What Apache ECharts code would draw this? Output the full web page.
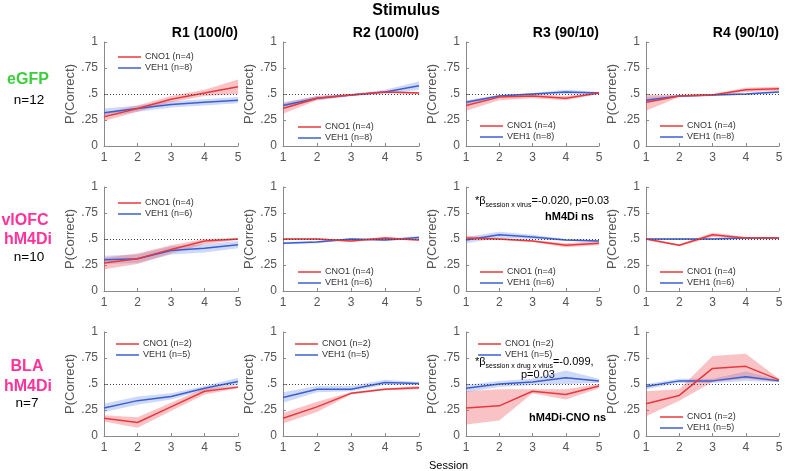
<!DOCTYPE html>
<html>
<head>
<meta charset="utf-8">
<script src="https://cdn.jsdelivr.net/npm/echarts@6/dist/echarts.min.js"></script>
<style>html,body{margin:0;padding:0;background:#fff;}#c{width:790px;height:471px;}</style>
</head>
<body>
<div id="c"></div>
<script>
// ---------- DATA ----------
const sessions = ['1', '2', '3', '4', '5'];
const yTickValues = [0, 0.25, 0.5, 0.75, 1];
const yTickLabels = ['0', '.25', '.5', '.75', '1'];
const stimuli = ['R1 (100/0)', 'R2 (100/0)', 'R3 (90/10)', 'R4 (90/10)'];
const cnoNames = ['CNO1 (n=4)', 'CNO1 (n=4)', 'CNO1 (n=2)'];
const vehNames = ['VEH1 (n=8)', 'VEH1 (n=6)', 'VEH1 (n=5)'];

// eGFP row (R1..R4)
const egfpCnoMean = [[0.28,0.36,0.45,0.51,0.57],[0.36,0.46,0.49,0.52,0.51],[0.39,0.47,0.48,0.46,0.51],[0.42,0.48,0.49,0.54,0.55]];
const egfpCnoLo   = [[0.24,0.33,0.42,0.48,0.50],[0.31,0.44,0.48,0.51,0.50],[0.34,0.44,0.46,0.44,0.50],[0.34,0.47,0.48,0.52,0.53]];
const egfpCnoHi   = [[0.32,0.39,0.48,0.54,0.64],[0.41,0.48,0.50,0.53,0.52],[0.43,0.49,0.50,0.48,0.52],[0.49,0.49,0.50,0.56,0.57]];
const egfpVehMean = [[0.32,0.36,0.40,0.42,0.44],[0.39,0.46,0.49,0.52,0.58],[0.42,0.48,0.50,0.52,0.51],[0.44,0.48,0.49,0.50,0.52]];
const egfpVehLo   = [[0.28,0.33,0.37,0.39,0.41],[0.36,0.44,0.48,0.50,0.54],[0.40,0.47,0.49,0.50,0.50],[0.41,0.47,0.48,0.49,0.51]];
const egfpVehHi   = [[0.36,0.39,0.43,0.45,0.47],[0.42,0.48,0.50,0.54,0.62],[0.44,0.49,0.51,0.54,0.52],[0.47,0.49,0.50,0.51,0.53]];

// vlOFC hM4Di row
const vlofcCnoMean = [[0.27,0.31,0.40,0.48,0.50],[0.50,0.50,0.48,0.51,0.49],[0.51,0.50,0.48,0.44,0.46],[0.50,0.44,0.54,0.51,0.51]];
const vlofcCnoLo   = [[0.21,0.26,0.36,0.45,0.49],[0.49,0.49,0.47,0.50,0.48],[0.49,0.49,0.47,0.42,0.44],[0.49,0.43,0.52,0.50,0.50]];
const vlofcCnoHi   = [[0.32,0.36,0.44,0.50,0.51],[0.51,0.51,0.49,0.52,0.50],[0.53,0.51,0.49,0.46,0.48],[0.51,0.45,0.56,0.52,0.52]];
const vlofcVehMean = [[0.30,0.31,0.39,0.41,0.445],[0.46,0.47,0.50,0.49,0.515],[0.49,0.54,0.52,0.49,0.48],[0.50,0.50,0.50,0.51,0.51]];
const vlofcVehLo   = [[0.26,0.27,0.35,0.37,0.41],[0.45,0.46,0.49,0.48,0.50],[0.46,0.51,0.50,0.48,0.47],[0.49,0.49,0.49,0.50,0.50]];
const vlofcVehHi   = [[0.34,0.35,0.43,0.45,0.48],[0.47,0.48,0.51,0.50,0.53],[0.52,0.57,0.54,0.50,0.49],[0.51,0.51,0.51,0.52,0.52]];

// BLA hM4Di row
const blaCnoMean = [[0.17,0.13,0.28,0.43,0.47],[0.17,0.28,0.41,0.45,0.465],[0.27,0.29,0.43,0.40,0.48],[0.31,0.39,0.65,0.67,0.54]];
const blaCnoLo   = [[0.14,0.08,0.24,0.40,0.46],[0.12,0.23,0.40,0.44,0.45],[0.11,0.15,0.41,0.35,0.46],[0.19,0.34,0.52,0.55,0.52]];
const blaCnoHi   = [[0.20,0.18,0.32,0.46,0.48],[0.22,0.33,0.42,0.46,0.48],[0.43,0.45,0.45,0.45,0.50],[0.43,0.45,0.77,0.79,0.55]];
const blaVehMean = [[0.27,0.34,0.38,0.46,0.525],[0.37,0.45,0.45,0.515,0.505],[0.46,0.50,0.52,0.56,0.53],[0.475,0.53,0.53,0.57,0.53]];
const blaVehLo   = [[0.23,0.30,0.35,0.44,0.49],[0.32,0.42,0.43,0.49,0.49],[0.42,0.47,0.49,0.50,0.51],[0.45,0.51,0.51,0.53,0.52]];
const blaVehHi   = [[0.31,0.38,0.41,0.48,0.56],[0.42,0.48,0.48,0.54,0.52],[0.49,0.53,0.55,0.63,0.55],[0.50,0.55,0.55,0.62,0.54]];

const chanceLevel = 0.5;

// ---------- LAYOUT ----------
const FONT = '"Liberation Sans", Arial, sans-serif';
const colX = [[104, 238], [283, 419], [466, 599], [646, 779]];
const rowY = [[42, 146], [187, 291], [332, 436]];
const legendPos = [
  [[113, 52], [293, 122], [475, 121], [655, 121]],
  [[113, 198], [293, 267], [475, 267], [655, 267]],
  [[111, 339], [290, 339], [473, 339], [655, 412]]
];
const RED = '#e8383d', BLUE = '#3b5fd1';
const RED_BAND = 'rgba(238,90,95,0.36)', BLUE_BAND = 'rgba(90,130,230,0.30)';

const rows = [
  {cm: egfpCnoMean, cl: egfpCnoLo, ch: egfpCnoHi, vm: egfpVehMean, vl: egfpVehLo, vh: egfpVehHi},
  {cm: vlofcCnoMean, cl: vlofcCnoLo, ch: vlofcCnoHi, vm: vlofcVehMean, vl: vlofcVehLo, vh: vlofcVehHi},
  {cm: blaCnoMean, cl: blaCnoLo, ch: blaCnoHi, vm: blaVehMean, vl: blaVehLo, vh: blaVehHi}
];

const grid = [], xAxis = [], yAxis = [], series = [], legend = [];
rows.forEach((d, r) => {
  for (let c = 0; c < 4; c++) {
    const p = r * 4 + c;
    grid.push({left: colX[c][0], top: rowY[r][0], width: colX[c][1] - colX[c][0], height: rowY[r][1] - rowY[r][0]});
    xAxis.push({
      type: 'category', data: sessions, boundaryGap: false, gridIndex: p,
      axisLine: {lineStyle: {color: '#8a8a8a', width: 1}},
      axisTick: {inside: true, length: 3, lineStyle: {color: '#8a8a8a'}},
      axisLabel: {color: '#555', fontSize: 12, fontFamily: FONT, margin: 6}
    });
    yAxis.push({
      type: 'value', min: 0, max: 1, interval: 0.25, gridIndex: p,
      name: 'P(Correct)', nameLocation: 'middle', nameGap: 24,
      nameTextStyle: {color: '#555', fontSize: 13, fontFamily: FONT},
      axisLine: {show: true, lineStyle: {color: '#8a8a8a', width: 1}},
      axisTick: {show: true, inside: true, length: 3, lineStyle: {color: '#8a8a8a'}},
      splitLine: {show: false},
      axisLabel: {color: '#555', fontSize: 12, fontFamily: FONT, margin: 6,
        formatter: v => { const i = yTickValues.findIndex(t => Math.abs(t - v) < 1e-9); return i >= 0 ? yTickLabels[i] : ''; }}
    });
    const base = {type: 'line', xAxisIndex: p, yAxisIndex: p, symbol: 'none', silent: true};
    const bandPair = (lo, hi, color, key) => {
      series.push(Object.assign({}, base, {name: 'lo' + key + p, stack: key + p, data: lo, lineStyle: {opacity: 0}, z: 1}));
      series.push(Object.assign({}, base, {name: 'band' + key + p, stack: key + p, data: hi.map((h, i) => +(h - lo[i]).toFixed(4)),
        lineStyle: {opacity: 0}, areaStyle: {color: color, opacity: 1}, z: 1}));
    };
    bandPair(d.vl[c], d.vh[c], BLUE_BAND, 'v');
    bandPair(d.cl[c], d.ch[c], RED_BAND, 'c');
    series.push(Object.assign({}, base, {name: vehNames[r], data: d.vm[c], lineStyle: {color: BLUE, width: 1.5}, itemStyle: {color: BLUE}, z: 3,
      markLine: {silent: true, symbol: 'none', label: {show: false}, lineStyle: {color: '#444', type: [1, 2], width: 1}, data: [{yAxis: chanceLevel}]}}));
    series.push(Object.assign({}, base, {name: cnoNames[r], data: d.cm[c], lineStyle: {color: RED, width: 1.5}, itemStyle: {color: RED}, z: 4}));
    legend.push({
      left: legendPos[r][c][0], top: legendPos[r][c][1] - 5.5, orient: 'vertical',
      data: [cnoNames[r], vehNames[r]], icon: 'rect', itemWidth: 23, itemHeight: 1.5, itemGap: 0,
      selectedMode: false, textStyle: {fontSize: 9, lineHeight: 11, color: '#333', fontFamily: FONT, padding: [0, 0, 0, -1]}
    });
  }
});

const txt = (x, y, text, o) => ({type: 'text', x: x, y: y, silent: true,
  style: Object.assign({text: text, fontFamily: FONT, fill: '#000', textVerticalAlign: 'middle'}, o)});

const graphic = [
  txt(406, 11, 'Stimulus', {fontSize: 16, fontWeight: 'bold', textAlign: 'center'}),
  txt(colX[0][1], 33, stimuli[0], {fontSize: 14, fontWeight: 'bold', textAlign: 'right'}),
  txt(colX[1][1], 33, stimuli[1], {fontSize: 14, fontWeight: 'bold', textAlign: 'right'}),
  txt(colX[2][1], 33, stimuli[2], {fontSize: 14, fontWeight: 'bold', textAlign: 'right'}),
  txt(colX[3][1], 33, stimuli[3], {fontSize: 14, fontWeight: 'bold', textAlign: 'right'}),
  txt(28, 80, 'eGFP', {fontSize: 16, fontWeight: 'bold', textAlign: 'center', fill: '#3ccf3c'}),
  txt(29, 100, 'n=12', {fontSize: 13.5, textAlign: 'center'}),
  txt(25, 221, 'vlOFC', {fontSize: 16, fontWeight: 'bold', textAlign: 'center', fill: '#ff3399'}),
  txt(28, 240, 'hM4Di', {fontSize: 16, fontWeight: 'bold', textAlign: 'center', fill: '#ff3399'}),
  txt(29, 257, 'n=10', {fontSize: 13.5, textAlign: 'center'}),
  txt(27, 367, 'BLA', {fontSize: 16, fontWeight: 'bold', textAlign: 'center', fill: '#ff3399'}),
  txt(28, 387, 'hM4Di', {fontSize: 16, fontWeight: 'bold', textAlign: 'center', fill: '#ff3399'}),
  txt(27, 403, 'n=7', {fontSize: 13.5, textAlign: 'center'}),
  txt(429, 466, 'Session', {fontSize: 11, textAlign: 'left'}),
  txt(475, 201, '{a|*β}{s|session x virus}{a|=-0.020, p=0.03}', {textAlign: 'left',
    rich: {a: {fontSize: 11, fontFamily: FONT, fill: '#000', verticalAlign: 'middle'}, s: {fontSize: 7, fontFamily: FONT, fill: '#000', verticalAlign: 'bottom', padding: [0, 0, -2, 0]}}}),
  txt(545, 217, 'hM4Di ns', {fontSize: 11, fontWeight: 'bold', textAlign: 'left'}),
  txt(475, 362, '{a|*β}{s|session x drug x virus}{a|=-0.099,}', {textAlign: 'left',
    rich: {a: {fontSize: 11, fontFamily: FONT, fill: '#000', verticalAlign: 'middle'}, s: {fontSize: 7, fontFamily: FONT, fill: '#000', verticalAlign: 'bottom', padding: [0, 0, -2, 0]}}}),
  txt(521, 375, 'p=0.03', {fontSize: 11, textAlign: 'left'}),
  txt(529, 418, 'hM4Di-CNO ns', {fontSize: 11, fontWeight: 'bold', textAlign: 'left'})
];

const chart = echarts.init(document.getElementById('c'), null, {renderer: 'canvas'});
chart.setOption({
  animation: false,
  backgroundColor: '#fff',
  textStyle: {fontFamily: FONT},
  grid: grid, xAxis: xAxis, yAxis: yAxis, series: series, legend: legend, graphic: graphic
});
</script>
</body>
</html>
